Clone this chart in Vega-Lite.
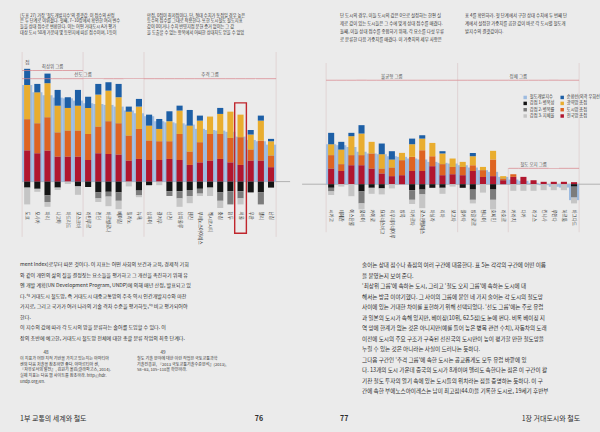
{
"$schema": "https://vega.github.io/schema/vega-lite/v6.json",
"background": "#ebebeb",
"padding": {"left": 20.1, "top": 0, "right": 0, "bottom": 0},
"spacing": 10,
"resolve": {"scale": {"color": "independent"}, "legend": {"color": "independent"}},
"config": {
  "view": {"stroke": null},
  "text": {"font": "Noto Sans CJK KR", "color": "#2e2e2e"},
  "axis": {"labelFont": "Noto Sans"},
  "legend": {"labelFont": "Noto Sans CJK KR"}
},
"datasets": {
  "comp": [
    {"key": "idx", "label": "철도개발지수", "rank": 0},
    {"key": "nat", "label": "전국망 총점", "rank": 1},
    {"key": "urb", "label": "도시망 총점", "rank": 2},
    {"key": "reg", "label": "광역망 총점", "rank": 3},
    {"key": "ring", "label": "순환선(외곽 우회선)", "rank": 4},
    {"key": "p1", "label": "감점 1: 병목성", "rank": 5},
    {"key": "p2", "label": "감점 2: 병목률", "rank": 6},
    {"key": "p3", "label": "감점 3: 지체율", "rank": 7}
  ],
  "left": [
    {"city": "도쿄", "idx": 80.5, "nat": 26, "urb": 26, "reg": 28.5, "ring": 13.5, "p1": -5, "p2": 0, "p3": -14},
    {"city": "오사카", "idx": 74.5, "nat": 23.6, "urb": 25, "reg": 25.8, "ring": 7, "p1": -6, "p2": 0, "p3": -2.5},
    {"city": "파리", "idx": 72, "nat": 25.8, "urb": 27.8, "reg": 28.4, "ring": 8, "p1": -11.5, "p2": -5.5, "p3": -4},
    {"city": "나고야", "idx": 70, "nat": 20.8, "urb": 20.2, "reg": 22.3, "ring": 13.1, "p1": -5, "p2": 0, "p3": -2},
    {"city": "마드리드", "idx": 69.4, "nat": 20.8, "urb": 21.7, "reg": 18.9, "ring": 8.9, "p1": 0, "p2": 0, "p3": -2},
    {"city": "모스크바", "idx": 67.5, "nat": 20.8, "urb": 21.7, "reg": 20.8, "ring": 13.1, "p1": -4, "p2": 0, "p3": -7},
    {"city": "라인루르", "idx": 65.3, "nat": 18, "urb": 21.7, "reg": 21.7, "ring": 9.4, "p1": -4.5, "p2": 0, "p3": 0},
    {"city": "런던", "idx": 64.7, "nat": 23.6, "urb": 22.2, "reg": 26.7, "ring": 8.9, "p1": -9, "p2": -5, "p3": -3},
    {"city": "바르셀로나", "idx": 63.9, "nat": 23, "urb": 27.3, "reg": 25.5, "ring": 7, "p1": -8.5, "p2": -4, "p3": -8},
    {"city": "베이징", "idx": 62.5, "nat": 22.5, "urb": 26.1, "reg": 21.7, "ring": 11.1, "p1": -9, "p2": -7, "p3": -7},
    {"city": "밀라노", "idx": 59.2, "nat": 17.5, "urb": 20.8, "reg": 20, "ring": 4.2, "p1": 0, "p2": 0, "p3": -4},
    {"city": "뉴욕", "idx": 57, "nat": 18.9, "urb": 25, "reg": 18.6, "ring": 6.4, "p1": -7.5, "p2": -4, "p3": -1.5},
    {"city": "상하이", "idx": 54.5, "nat": 18, "urb": 16.2, "reg": 12.5, "ring": 9.1, "p1": -3, "p2": 0, "p3": 0},
    {"city": "광저우", "idx": 50.3, "nat": 18, "urb": 15.6, "reg": 10.3, "ring": 8.3, "p1": 0, "p2": 0, "p3": -3},
    {"city": "선전", "idx": 49.4, "nat": 18.9, "urb": 14.7, "reg": 16.7, "ring": 8.3, "p1": -8, "p2": -4, "p3": 0},
    {"city": "상파울루", "idx": 48.6, "nat": 18, "urb": 21.7, "reg": 19.5, "ring": 4.1, "p1": -8, "p2": -6, "p3": -7},
    {"city": "톈진", "idx": 47.5, "nat": 13.9, "urb": 11.1, "reg": 21.7, "ring": 13, "p1": -7, "p2": -5, "p3": -6},
    {"city": "부에노스아이레스", "idx": 44.0, "nat": 16, "urb": 16.8, "reg": 18, "ring": 4.2, "p1": -6, "p2": -4, "p3": -2},
    {"city": "멕시코시티", "idx": 43, "nat": 17.5, "urb": 22.2, "reg": 14.5, "ring": 0, "p1": -5, "p2": 0, "p3": -7},
    {"city": "충칭", "idx": 42.5, "nat": 18.9, "urb": 20.8, "reg": 16.7, "ring": 5, "p1": -9, "p2": -7, "p3": -6},
    {"city": "청두", "idx": 41.5, "nat": 16, "urb": 20.4, "reg": 21.9, "ring": 0, "p1": -8, "p2": -11, "p3": 0},
    {"city": "서울", "idx": 37.5, "nat": 13.9, "urb": 23.1, "reg": 18.8, "ring": 0, "p1": -8, "p2": -6, "p3": -5},
    {"city": "우한", "idx": 34.7, "nat": 17.5, "urb": 9.2, "reg": 12.5, "ring": 3.8, "p1": -9, "p2": 0, "p3": 0},
    {"city": "델리", "idx": 33.6, "nat": 17.5, "urb": 16.7, "reg": 16.6, "ring": 4.2, "p1": -9, "p2": -10, "p3": 0},
    {"city": "난징", "idx": 30.8, "nat": 12, "urb": 9.7, "reg": 11.9, "ring": 2, "p1": -5, "p2": 0, "p3": 0}
  ],
  "right": [
    {"city": "시카고", "idx": 33.3, "nat": 13, "urb": 11.2, "reg": 9.1, "ring": 9.5, "p1": -3, "p2": -3, "p3": -3},
    {"city": "테헤란", "idx": 32.5, "nat": 11, "urb": 5.7, "reg": 12.2, "ring": 6.4, "p1": 0, "p2": 0, "p3": -2},
    {"city": "이스탄불", "idx": 31, "nat": 15.8, "urb": 8.4, "reg": 15.8, "ring": 2.8, "p1": 0, "p2": 0, "p3": -10},
    {"city": "뭄바이", "idx": 27, "nat": 15.8, "urb": 8.4, "reg": 18, "ring": 7, "p1": -6, "p2": -10, "p3": -5},
    {"city": "카이로", "idx": 25.6, "nat": 13, "urb": 12.6, "reg": 9.7, "ring": 0, "p1": -3, "p2": 0, "p3": -5},
    {"city": "요하네스버그", "idx": 25, "nat": 8.9, "urb": 4.1, "reg": 12, "ring": 8.9, "p1": -3.5, "p2": 0, "p3": -5},
    {"city": "리우데자네이루", "idx": 23.3, "nat": 6.7, "urb": 7.2, "reg": 6.7, "ring": 6.9, "p1": 0, "p2": 0, "p3": -3.5},
    {"city": "방콕", "idx": 22.8, "nat": 7.5, "urb": 12.5, "reg": 6.1, "ring": 0, "p1": 0, "p2": 0, "p3": 0},
    {"city": "자카르타", "idx": 21.4, "nat": 11, "urb": 11.8, "reg": 10.5, "ring": 4.7, "p1": -5, "p2": -8, "p3": -3.5},
    {"city": "로스앤젤레스", "idx": 20.6, "nat": 11, "urb": 17.3, "reg": 9.7, "ring": 2.8, "p1": -4.5, "p2": -4, "p3": -11.5},
    {"city": "마닐라", "idx": 18.6, "nat": 15, "urb": 8.3, "reg": 11.1, "ring": 0, "p1": -3, "p2": 0, "p3": 0},
    {"city": "리마", "idx": 17.8, "nat": 7.5, "urb": 9.2, "reg": 8.9, "ring": 1.9, "p1": -3, "p2": 0, "p3": -5},
    {"city": "보고타", "idx": 17.2, "nat": 8.3, "urb": 6.1, "reg": 7, "ring": 0, "p1": 0, "p2": 0, "p3": -2},
    {"city": "콜카타", "idx": 15.8, "nat": 7.5, "urb": 6.9, "reg": 4.2, "ring": 0, "p1": -3, "p2": 0, "p3": 0},
    {"city": "방갈로르", "idx": 13.9, "nat": 11, "urb": 4.8, "reg": 7.5, "ring": 2.7, "p1": -4.5, "p2": -8.5, "p3": -3},
    {"city": "첸나이", "idx": 11.7, "nat": 6, "urb": 5.7, "reg": 2.7, "ring": 0, "p1": 0, "p2": 0, "p3": -7},
    {"city": "호찌민", "idx": 10.3, "nat": 6.7, "urb": 13.9, "reg": 7.2, "ring": 0, "p1": -4.5, "p2": -8.5, "p3": -8},
    {"city": "라호르", "idx": 6.1, "nat": 3.3, "urb": 1.4, "reg": 2, "ring": 0, "p1": 0, "p2": 0, "p3": 0},
    {"city": "카라치", "idx": 3.9, "nat": 6.1, "urb": 2.2, "reg": 0, "ring": 0, "p1": 0, "p2": 0, "p3": -5.5},
    {"city": "다카", "idx": 2.8, "nat": 6.1, "urb": 0, "reg": 0, "ring": 0, "p1": 0, "p2": 0, "p3": -5.5},
    {"city": "라고스", "idx": 1.1, "nat": 3.3, "urb": 0, "reg": 0, "ring": 0, "p1": 0, "p2": 0, "p3": -5.5},
    {"city": "킨샤사", "idx": -0.8, "nat": 2, "urb": 0, "reg": 0, "ring": 0, "p1": 0, "p2": 0, "p3": -5},
    {"city": "루안다", "idx": -2.2, "nat": 2, "urb": 0, "reg": 0, "ring": 0, "p1": 0, "p2": 0, "p3": -5},
    {"city": "하르툼", "idx": -2.8, "nat": 2, "urb": 0, "reg": 0, "ring": 0, "p1": 0, "p2": 0, "p3": -5},
    {"city": "바그다드", "idx": -13.3, "nat": 1.7, "urb": 0, "reg": 0, "ring": 0, "p1": -2, "p2": -9, "p3": -5}
  ],
  "capL": [
    {"c": 0, "n": 0, "t": "[도표 27] 가장 ‘철도개발지수’의 결괏값. 이 점수의 산정"},
    {"c": 0, "n": 1, "t": "은 두 단계로 이뤄졌다. 첫째, 7~10장에서 확인한 여러 변수"},
    {"c": 0, "n": 2, "t": "들을 상대 점수로 변환한다. 이는 어떤 거대도시 A가 평가"},
    {"c": 0, "n": 3, "t": "대상 도시 50개 가운데 몇 등인지에 따른 점수이며, 1등이"},
    {"c": 1, "n": 0, "t": "만점, 0점이 최저점이다. 단, 절대 수치가 동점일 경우 높은"},
    {"c": 1, "n": 1, "t": "등수의 점수를 그대로 적용한다. 또한 도시철도 철도지표"},
    {"c": 1, "n": 2, "t": "값이 0이거나 수치 반영지점 문헌 증거 없이는 그 값"},
    {"c": 1, "n": 3, "t": "을 도출할 수 없는 항목에서 어떠한 상대치도 얻을 수 없었"}
  ],
  "capR": [
    {"c": 0, "n": 0, "t": "단 도시의 경우, 이들 도시의 값은 0으로 설정하는 한편 실"},
    {"c": 0, "n": 1, "t": "제로 값이 있는 도시들은 그 수에 맞게 상대 점수를 매겼다."},
    {"c": 0, "n": 2, "t": "둘째, 이들 상대 점수를 종합하기 위해, 각 요소를 다섯 부류"},
    {"c": 0, "n": 3, "t": "로 분류한 다음 가중치를 매겼다. 이 가중치의 세부 사항은"},
    {"c": 1, "n": 0, "t": "표 4를 확인하라. 첫 단계에서 구한 상대 수치에 두 번째 단"},
    {"c": 1, "n": 1, "t": "계에서 설정한 가중치를 곱한 값이 바로 각 도시별 철도개"},
    {"c": 1, "n": 2, "t": "발지수의 결괏값이다."}
  ],
  "bodyL": [
    {"n": 0, "t": "ment Index)로부터 따온 것이다. 이 지표는 어떤 사회의 보건과 교육, 경제적 기회"},
    {"n": 1, "t": "와 같이 개인의 삶의 질을 결정짓는 요소들을 평가하고 그 개선을 촉진하기 위해 유"},
    {"n": 2, "t": "엔 개발 계획(UN Development Program, UNDP)에 의해 매년 산정, 발표되고 있"},
    {"n": 3, "t": "다.⁴⁸ 거대도시 철도망, 즉 거대도시 대중교통망의 주축 역시 인간개발지수와 마찬"},
    {"n": 4, "t": "가지로, 그리고 국가가 여러 나라의 기술 격차 수준을 평가하듯,⁴⁹ 비교 평가되어야"},
    {"n": 5, "t": "한다."},
    {"n": 6, "t": "\u3000\u3000\u3000\u3000이 지수의 값에 따라 각 도시의 망을 분류하는 술어를 도입할 수 있다. 이"},
    {"n": 7, "t": "장의 초반에 예고한, 거대도시 철도망 전체에 대한 총괄 분류 작업의 최종 단계다."}
  ],
  "noteL": [
    {"c": 0, "n": 0, "t": "48"},
    {"c": 1, "n": 0, "t": "49"},
    {"c": 0, "n": 1, "t": "이 지표가 어떤 지적 기반을 가지고 있는지는 아마티아"},
    {"c": 0, "n": 2, "t": "센의 다음 저술을 참조하면 좋다. 아마르티아 센,"},
    {"c": 0, "n": 3, "t": "『자유로서의 발전』, 김원기 옮김(갈라파고스, 2014)."},
    {"c": 0, "n": 4, "t": "실제 지표는 다음 웹 사이트를 참조하라. http://hdr."},
    {"c": 0, "n": 5, "t": "undp.org/en."},
    {"c": 1, "n": 1, "t": "철도 기술 분야에 대한 이런 작업은 국토교통과학"},
    {"c": 1, "n": 2, "t": "기술진흥원, 『2013 국토교통기술수준분석』(2013),"},
    {"c": 1, "n": 3, "t": "58~63, 105~110을 확인하라."}
  ],
  "footL": [
    {"c": 0, "t": "1부 교통의 세계와 철도"},
    {"c": 1, "t": "76"}
  ],
  "bodyR": [
    {"n": 0, "t": "술어는 상대 점수나 총점의 여러 구간에 대응한다. 표 5는 각각의 구간에 어떤 이름"},
    {"n": 1, "t": "을 붙였는지 보여 준다."},
    {"n": 2, "t": "\u3000\u3000\u3000\u3000‘최상위 그룹’에 속하는 도시, 그리고 ‘철도 오지 그룹’에 속하는 도시에 대"},
    {"n": 3, "t": "해서는 방금 이야기했다. 그 사이의 그룹에 붙인 네 가지 술어는 각 도시의 철도망"},
    {"n": 4, "t": "사이에 있는 거대한 차이를 표현하기 위해 선택되었다. ‘선도 그룹’에는 주로 유럽"},
    {"n": 5, "t": "과 일본의 도시가 속해 있지만, 베이징(10위, 62.5점)도 눈에 띈다. 비록 베이징 지"},
    {"n": 6, "t": "역 망에 한계가 없는 것은 아니지만(예를 들어 높은 병목 관련 수치), 자동차의 도래"},
    {"n": 7, "t": "이전에 도시의 주요 구조가 구축된 선진국의 도시만이 높이 평가할 만한 철도망을"},
    {"n": 8, "t": "누릴 수 있는 것은 아니라는 사실이 드러나는 듯하다."},
    {"n": 9, "t": "\u3000\u3000\u3000\u3000그다음 구간인 ‘추격 그룹’에 속한 도시는 공교롭게도 모두 유럽 바깥에 있"},
    {"n": 10, "t": "다. 13개의 도시 가운데 중국의 도시가 8개이며 델리도 속한다는 점은 이 구간이 활"},
    {"n": 11, "t": "기찬 철도 투자의 열기 속에 있는 도시들의 위치라는 점을 증명하는 듯하다. 이 구"},
    {"n": 12, "t": "간에 속한 부에노스아이레스는 남미 최고점(44.0)을 기록한 도시로, 19세기 후반부"}
  ],
  "footR": [
    {"c": 0, "t": "77"},
    {"c": 1, "t": "1장 거대도시와 철도"}
  ]
},
"hconcat": [
  {
    "spacing": 0,
    "bounds": "flush",
    "resolve": {"scale": {"color": "independent"}, "legend": {"color": "independent"}},
    "vconcat": [
      {
        "width": 268, "height": 51.4,
        "data": {"name": "capL"},
        "mark": {"type": "text", "align": "left", "baseline": "middle", "fontSize": 4.2, "color": "#333"},
        "encoding": {
          "x": {"field": "c", "type": "quantitative", "scale": {"domain": [0, 1], "range": [-2, 125]}, "axis": null},
          "y": {"field": "n", "type": "quantitative", "scale": {"domain": [0, 3], "range": [15.7, 32.5]}, "axis": null},
          "text": {"field": "t"}
        }
      },
      {
        "width": 268, "height": 184.8,
        "data": {"name": "left"},
        "transform": [
          {"fold": ["idx", "nat", "urb", "reg", "ring", "p1", "p2", "p3"], "as": ["key", "value"]},
          {"lookup": "key", "from": {"data": {"name": "comp"}, "key": "key", "fields": ["label", "rank"]}}
        ],
        "layer": [
          {
            "transform": [{"filter": {"field": "key", "equal": "idx"}}, {"filter": {"field": "city", "oneOf": ["도쿄", "라인루르", "상하이"]}}],
            "mark": {"type": "rule", "color": "#d9c3c5", "strokeWidth": 0.6},
            "encoding": {"x": {"field": "city", "type": "nominal", "bandPosition": 0, "scale": {"domain": ["도쿄","오사카","파리","나고야","마드리드","모스크바","라인루르","런던","바르셀로나","베이징","밀라노","뉴욕","상하이","광저우","선전","상파울루","톈진","부에노스아이레스","멕시코시티","충칭","청두","서울","우한","델리","난징"], "range": [0, 254], "paddingInner": 0, "paddingOuter": 0}, "axis": null}}
          },
          {
            "transform": [{"filter": {"field": "key", "equal": "idx"}}, {"filter": {"field": "city", "equal": "난징"}}],
            "mark": {"type": "rule", "color": "#d9c3c5", "strokeWidth": 0.6},
            "encoding": {"x": {"field": "city", "type": "nominal", "bandPosition": 1, "scale": {"domain": ["도쿄","오사카","파리","나고야","마드리드","모스크바","라인루르","런던","바르셀로나","베이징","밀라노","뉴욕","상하이","광저우","선전","상파울루","톈진","부에노스아이레스","멕시코시티","충칭","청두","서울","우한","델리","난징"], "range": [0, 254], "paddingInner": 0, "paddingOuter": 0}, "axis": null}}
          },
          {
            "transform": [{"filter": {"field": "key", "equal": "idx"}}, {"filter": {"field": "city", "equal": "도쿄"}}],
            "mark": {"type": "rule", "color": "#9a9a9a", "strokeWidth": 0.7},
            "encoding": {"y": {"datum": 0, "type": "quantitative", "axis": null}}
          },
          {
            "transform": [{"filter": {"field": "key", "equal": "idx"}}],
            "mark": {"type": "bar", "width": {"band": 1}},
            "encoding": {
              "x": {"field": "city", "type": "nominal", "scale": {"domain": ["도쿄","오사카","파리","나고야","마드리드","모스크바","라인루르","런던","바르셀로나","베이징","밀라노","뉴욕","상하이","광저우","선전","상파울루","톈진","부에노스아이레스","멕시코시티","충칭","청두","서울","우한","델리","난징"], "range": [0, 254], "paddingInner": 0, "paddingOuter": 0}, "axis": null},
              "y": {"field": "value", "type": "quantitative", "scale": {"domain": [-46, 108], "nice": false, "zero": false},
                    "axis": {"values": [-40, -20, 0, 20, 40, 60, 80, 100], "grid": true, "gridColor": "#cfcfcf", "gridWidth": 0.5, "domain": false, "ticks": false, "labelFontSize": 5.5, "labelColor": "#555", "labelPadding": 2, "title": null}},
              "color": {"field": "label", "type": "nominal", "legend": null,
                        "scale": {"domain": ["철도개발지수", "감점 1: 병목성", "감점 2: 병목률", "감점 3: 지체율", "순환선(외곽 우회선)", "광역망 총점", "도시망 총점", "전국망 총점"],
                                  "range": ["#9dbbe0", "#141414", "#7c7c7c", "#c5c5c5", "#1d5fa6", "#e9ad2f", "#de6422", "#b1162f"]}}
            }
          },
          {
            "transform": [{"filter": {"not": {"field": "key", "equal": "idx"}}}],
            "mark": {"type": "bar", "width": {"band": 0.6}},
            "encoding": {
              "x": {"field": "city", "type": "nominal", "scale": {"domain": ["도쿄","오사카","파리","나고야","마드리드","모스크바","라인루르","런던","바르셀로나","베이징","밀라노","뉴욕","상하이","광저우","선전","상파울루","톈진","부에노스아이레스","멕시코시티","충칭","청두","서울","우한","델리","난징"], "range": [0, 254], "paddingInner": 0, "paddingOuter": 0}, "axis": null},
              "y": {"field": "value", "type": "quantitative", "stack": "zero", "axis": null},
              "color": {"field": "label", "type": "nominal", "legend": null,
                        "scale": {"domain": ["철도개발지수", "감점 1: 병목성", "감점 2: 병목률", "감점 3: 지체율", "순환선(외곽 우회선)", "광역망 총점", "도시망 총점", "전국망 총점"],
                                  "range": ["#9dbbe0", "#141414", "#7c7c7c", "#c5c5c5", "#1d5fa6", "#e9ad2f", "#de6422", "#b1162f"]}},
              "order": {"field": "rank", "type": "quantitative"}
            }
          },
          {
            "transform": [{"filter": {"field": "key", "equal": "idx"}}, {"filter": {"field": "city", "oneOf": ["도쿄", "오사카", "파리", "나고야", "마드리드", "모스크바"]}}],
            "mark": {"type": "bar", "width": {"band": 1}, "color": "#d8848b"},
            "encoding": {
              "x": {"field": "city", "type": "nominal", "scale": {"domain": ["도쿄","오사카","파리","나고야","마드리드","모스크바","라인루르","런던","바르셀로나","베이징","밀라노","뉴욕","상하이","광저우","선전","상파울루","톈진","부에노스아이레스","멕시코시티","충칭","청두","서울","우한","델리","난징"], "range": [0, 254], "paddingInner": 0, "paddingOuter": 0}, "axis": null},
              "y": {"datum": 93, "type": "quantitative", "axis": null},
              "y2": {"datum": 92.4}
            }
          },
          {
            "transform": [{"filter": {"field": "key", "equal": "idx"}}],
            "mark": {"type": "bar", "width": {"band": 1}, "color": "#d8848b"},
            "encoding": {
              "x": {"field": "city", "type": "nominal", "scale": {"domain": ["도쿄","오사카","파리","나고야","마드리드","모스크바","라인루르","런던","바르셀로나","베이징","밀라노","뉴욕","상하이","광저우","선전","상파울루","톈진","부에노스아이레스","멕시코시티","충칭","청두","서울","우한","델리","난징"], "range": [0, 254], "paddingInner": 0, "paddingOuter": 0}, "axis": null},
              "y": {"datum": 86, "type": "quantitative", "axis": null},
              "y2": {"datum": 85.4}
            }
          },
          {
            "transform": [{"filter": {"field": "key", "equal": "idx"}}, {"filter": {"field": "city", "equal": "나고야"}}],
            "mark": {"type": "text", "text": "최상위 그룹", "fontSize": 4.5, "baseline": "alphabetic", "dy": -2, "color": "#555"},
            "encoding": {
              "x": {"field": "city", "type": "nominal", "bandPosition": 0, "scale": {"domain": ["도쿄","오사카","파리","나고야","마드리드","모스크바","라인루르","런던","바르셀로나","베이징","밀라노","뉴욕","상하이","광저우","선전","상파울루","톈진","부에노스아이레스","멕시코시티","충칭","청두","서울","우한","델리","난징"], "range": [0, 254], "paddingInner": 0, "paddingOuter": 0}, "axis": null},
              "y": {"datum": 93, "type": "quantitative", "axis": null}
            }
          },
          {
            "transform": [{"filter": {"field": "key", "equal": "idx"}}, {"filter": {"field": "city", "equal": "라인루르"}}],
            "mark": {"type": "text", "text": "선도 그룹", "fontSize": 4.5, "baseline": "alphabetic", "dy": -2, "color": "#555"},
            "encoding": {
              "x": {"field": "city", "type": "nominal", "bandPosition": 0, "scale": {"domain": ["도쿄","오사카","파리","나고야","마드리드","모스크바","라인루르","런던","바르셀로나","베이징","밀라노","뉴욕","상하이","광저우","선전","상파울루","톈진","부에노스아이레스","멕시코시티","충칭","청두","서울","우한","델리","난징"], "range": [0, 254], "paddingInner": 0, "paddingOuter": 0}, "axis": null},
              "y": {"datum": 86, "type": "quantitative", "axis": null}
            }
          },
          {
            "transform": [{"filter": {"field": "key", "equal": "idx"}}, {"filter": {"field": "city", "equal": "멕시코시티"}}],
            "mark": {"type": "text", "text": "추격 그룹", "fontSize": 4.5, "baseline": "alphabetic", "dy": -2, "color": "#555"},
            "encoding": {
              "x": {"field": "city", "type": "nominal", "bandPosition": 0.5, "scale": {"domain": ["도쿄","오사카","파리","나고야","마드리드","모스크바","라인루르","런던","바르셀로나","베이징","밀라노","뉴욕","상하이","광저우","선전","상파울루","톈진","부에노스아이레스","멕시코시티","충칭","청두","서울","우한","델리","난징"], "range": [0, 254], "paddingInner": 0, "paddingOuter": 0}, "axis": null},
              "y": {"datum": 86, "type": "quantitative", "axis": null}
            }
          },
          {
            "transform": [{"filter": {"field": "key", "equal": "idx"}}],
            "mark": {"type": "text", "angle": 90, "align": "left", "baseline": "middle", "fontSize": 4.5, "color": "#333"},
            "encoding": {
              "x": {"field": "city", "type": "nominal", "scale": {"domain": ["도쿄","오사카","파리","나고야","마드리드","모스크바","라인루르","런던","바르셀로나","베이징","밀라노","뉴욕","상하이","광저우","선전","상파울루","톈진","부에노스아이레스","멕시코시티","충칭","청두","서울","우한","델리","난징"], "range": [0, 254], "paddingInner": 0, "paddingOuter": 0}, "axis": null},
              "y": {"datum": -25, "type": "quantitative", "axis": null},
              "text": {"field": "city"}
            }
          },
          {
            "transform": [{"filter": {"field": "key", "equal": "idx"}}, {"filter": {"field": "city", "equal": "서울"}}],
            "mark": {"type": "bar", "width": {"band": 1.15}, "fill": "#ffffff", "fillOpacity": 0, "stroke": "#c0262d", "strokeWidth": 1.4},
            "encoding": {
              "x": {"field": "city", "type": "nominal", "scale": {"domain": ["도쿄","오사카","파리","나고야","마드리드","모스크바","라인루르","런던","바르셀로나","베이징","밀라노","뉴욕","상하이","광저우","선전","상파울루","톈진","부에노스아이레스","멕시코시티","충칭","청두","서울","우한","델리","난징"], "range": [0, 254], "paddingInner": 0, "paddingOuter": 0}, "axis": null},
              "y": {"datum": 65.6, "type": "quantitative", "axis": null},
              "y2": {"datum": -43}
            }
          },
          {
            "transform": [{"filter": {"field": "key", "equal": "idx"}}, {"filter": {"field": "city", "equal": "도쿄"}}],
            "mark": {"type": "text", "text": "점", "fontSize": 5, "align": "left", "baseline": "middle", "dx": 3, "color": "#555"},
            "encoding": {
              "x": {"field": "city", "type": "nominal", "bandPosition": 0, "scale": {"domain": ["도쿄","오사카","파리","나고야","마드리드","모스크바","라인루르","런던","바르셀로나","베이징","밀라노","뉴욕","상하이","광저우","선전","상파울루","톈진","부에노스아이레스","멕시코시티","충칭","청두","서울","우한","델리","난징"], "range": [0, 254], "paddingInner": 0, "paddingOuter": 0}, "axis": null},
              "y": {"datum": 100, "type": "quantitative", "axis": null}
            }
          }
        ]
      },
      {
        "width": 268, "height": 110,
        "data": {"name": "bodyL"},
        "mark": {"type": "text", "align": "left", "baseline": "middle", "fontSize": 5.1, "color": "#2b2b2b"},
        "encoding": {
          "x": {"datum": 0, "type": "quantitative", "scale": {"domain": [0, 1], "range": [-2, 200]}, "axis": null},
          "y": {"field": "n", "type": "quantitative", "scale": {"domain": [0, 7], "range": [27.5, 101]}, "axis": null},
          "text": {"field": "t"}
        }
      },
      {
        "width": 268, "height": 54,
        "data": {"name": "noteL"},
        "layer": [
          {
            "transform": [{"filter": {"field": "n", "equal": 0}}],
            "mark": {"type": "text", "align": "center", "baseline": "middle", "fontSize": 4.6, "dx": 26, "color": "#333"},
            "encoding": {
              "x": {"field": "c", "type": "quantitative", "scale": {"domain": [0, 1], "range": [-2, 115]}, "axis": null},
              "y": {"field": "n", "type": "quantitative", "scale": {"domain": [0, 5], "range": [6, 35]}, "axis": null},
              "text": {"field": "t"}
            }
          },
          {
            "transform": [{"filter": {"field": "n", "gt": 0}}],
            "mark": {"type": "text", "align": "left", "baseline": "middle", "fontSize": 4.1, "color": "#333"},
            "encoding": {
              "x": {"field": "c", "type": "quantitative", "axis": null},
              "y": {"field": "n", "type": "quantitative", "axis": null},
              "text": {"field": "t"}
            }
          }
        ]
      },
      {
        "width": 268, "height": 31.8,
        "data": {"name": "footL"},
        "layer": [
          {
            "transform": [{"filter": {"field": "c", "equal": 0}}],
            "mark": {"type": "text", "align": "left", "baseline": "middle", "fontSize": 7, "color": "#2b2b2b"},
            "encoding": {
              "x": {"field": "c", "type": "quantitative", "scale": {"domain": [0, 1], "range": [-2, 241]}, "axis": null},
              "y": {"datum": 0, "type": "quantitative", "scale": {"domain": [0, 1], "range": [18, 30]}, "axis": null},
              "text": {"field": "t"}
            }
          },
          {
            "transform": [{"filter": {"field": "c", "equal": 1}}],
            "mark": {"type": "text", "align": "right", "baseline": "middle", "fontSize": 7, "fontWeight": "bold", "color": "#2b2b2b"},
            "encoding": {
              "x": {"field": "c", "type": "quantitative", "axis": null},
              "y": {"datum": 0, "type": "quantitative", "axis": null},
              "text": {"field": "t"}
            }
          }
        ]
      }
    ]
  },
  {
    "spacing": 0,
    "bounds": "flush",
    "resolve": {"scale": {"color": "independent"}, "legend": {"color": "independent"}},
    "vconcat": [
      {
        "width": 300, "height": 62.8,
        "data": {"name": "capR"},
        "mark": {"type": "text", "align": "left", "baseline": "middle", "fontSize": 4.4, "color": "#333"},
        "encoding": {
          "x": {"field": "c", "type": "quantitative", "scale": {"domain": [0, 1], "range": [38, 163]}, "axis": null},
          "y": {"field": "n", "type": "quantitative", "scale": {"domain": [0, 3], "range": [15.7, 40.3]}, "axis": null},
          "text": {"field": "t"}
        }
      },
      {
        "width": 300, "height": 169.2,
        "data": {"name": "right"},
        "transform": [
          {"fold": ["idx", "nat", "urb", "reg", "ring", "p1", "p2", "p3"], "as": ["key", "value"]},
          {"lookup": "key", "from": {"data": {"name": "comp"}, "key": "key", "fields": ["label", "rank"]}}
        ],
        "layer": [
          {
            "transform": [{"filter": {"field": "key", "equal": "idx"}}, {"filter": {"field": "city", "oneOf": ["시카고", "콜카타"]}}],
            "mark": {"type": "rule", "color": "#d9c3c5", "strokeWidth": 0.6},
            "encoding": {"x": {"field": "city", "type": "nominal", "bandPosition": 0, "scale": {"domain": ["시카고","테헤란","이스탄불","뭄바이","카이로","요하네스버그","리우데자네이루","방콕","자카르타","로스앤젤레스","마닐라","리마","보고타","콜카타","방갈로르","첸나이","호찌민","라호르","카라치","다카","라고스","킨샤사","루안다","하르툼","바그다드"], "range": [24, 277], "paddingInner": 0, "paddingOuter": 0}, "axis": null}}
          },
          {
            "transform": [{"filter": {"field": "key", "equal": "idx"}}, {"filter": {"field": "city", "equal": "바그다드"}}],
            "mark": {"type": "rule", "color": "#d9c3c5", "strokeWidth": 0.6},
            "encoding": {"x": {"field": "city", "type": "nominal", "bandPosition": 1, "scale": {"domain": ["시카고","테헤란","이스탄불","뭄바이","카이로","요하네스버그","리우데자네이루","방콕","자카르타","로스앤젤레스","마닐라","리마","보고타","콜카타","방갈로르","첸나이","호찌민","라호르","카라치","다카","라고스","킨샤사","루안다","하르툼","바그다드"], "range": [24, 277], "paddingInner": 0, "paddingOuter": 0}, "axis": null}}
          },
          {
            "transform": [{"filter": {"field": "key", "equal": "idx"}}, {"filter": {"field": "city", "equal": "카라치"}}],
            "mark": {"type": "rule", "color": "#d9c3c5", "strokeWidth": 0.6},
            "encoding": {
              "x": {"field": "city", "type": "nominal", "bandPosition": 0, "scale": {"domain": ["시카고","테헤란","이스탄불","뭄바이","카이로","요하네스버그","리우데자네이루","방콕","자카르타","로스앤젤레스","마닐라","리마","보고타","콜카타","방갈로르","첸나이","호찌민","라호르","카라치","다카","라고스","킨샤사","루안다","하르툼","바그다드"], "range": [24, 277], "paddingInner": 0, "paddingOuter": 0}, "axis": null},
              "y": {"datum": 13.6, "type": "quantitative", "axis": null},
              "y2": {"datum": -40}
            }
          },
          {
            "transform": [{"filter": {"field": "key", "equal": "idx"}}, {"filter": {"field": "city", "equal": "시카고"}}],
            "mark": {"type": "rule", "color": "#9a9a9a", "strokeWidth": 0.7},
            "encoding": {"y": {"datum": 0, "type": "quantitative", "axis": null}}
          },
          {
            "transform": [{"filter": {"field": "key", "equal": "idx"}}],
            "mark": {"type": "bar", "width": {"band": 1}},
            "encoding": {
              "x": {"field": "city", "type": "nominal", "scale": {"domain": ["시카고","테헤란","이스탄불","뭄바이","카이로","요하네스버그","리우데자네이루","방콕","자카르타","로스앤젤레스","마닐라","리마","보고타","콜카타","방갈로르","첸나이","호찌민","라호르","카라치","다카","라고스","킨샤사","루안다","하르툼","바그다드"], "range": [24, 277], "paddingInner": 0, "paddingOuter": 0}, "axis": null},
              "y": {"field": "value", "type": "quantitative", "scale": {"domain": [-40, 101], "nice": false, "zero": false},
                    "axis": {"values": [-40, -20, 0, 20, 40, 60, 80, 100], "grid": true, "gridColor": "#cfcfcf", "gridWidth": 0.5, "domain": false, "ticks": false, "labels": false, "title": null}},
              "color": {"field": "label", "type": "nominal",
                        "scale": {"domain": ["철도개발지수", "감점 1: 병목성", "감점 2: 병목률", "감점 3: 지체율", "순환선(외곽 우회선)", "광역망 총점", "도시망 총점", "전국망 총점"],
                                  "range": ["#9dbbe0", "#141414", "#7c7c7c", "#c5c5c5", "#1d5fa6", "#e9ad2f", "#de6422", "#b1162f"]},
                        "legend": {"orient": "none", "legendX": 221, "legendY": 32, "columns": 2, "title": null, "symbolType": "square", "symbolSize": 12, "symbolStrokeWidth": 0, "labelFontSize": 4.2, "labelColor": "#333", "labelOffset": 2.5, "rowPadding": 1.3, "columnPadding": 5, "labelLimit": 120}}
            }
          },
          {
            "transform": [{"filter": {"not": {"field": "key", "equal": "idx"}}}],
            "mark": {"type": "bar", "width": {"band": 0.6}},
            "encoding": {
              "x": {"field": "city", "type": "nominal", "scale": {"domain": ["시카고","테헤란","이스탄불","뭄바이","카이로","요하네스버그","리우데자네이루","방콕","자카르타","로스앤젤레스","마닐라","리마","보고타","콜카타","방갈로르","첸나이","호찌민","라호르","카라치","다카","라고스","킨샤사","루안다","하르툼","바그다드"], "range": [24, 277], "paddingInner": 0, "paddingOuter": 0}, "axis": null},
              "y": {"field": "value", "type": "quantitative", "stack": "zero", "axis": null},
              "color": {"field": "label", "type": "nominal",
                        "scale": {"domain": ["철도개발지수", "감점 1: 병목성", "감점 2: 병목률", "감점 3: 지체율", "순환선(외곽 우회선)", "광역망 총점", "도시망 총점", "전국망 총점"],
                                  "range": ["#9dbbe0", "#141414", "#7c7c7c", "#c5c5c5", "#1d5fa6", "#e9ad2f", "#de6422", "#b1162f"]}},
              "order": {"field": "rank", "type": "quantitative"}
            }
          },
          {
            "transform": [{"filter": {"field": "key", "equal": "idx"}}],
            "mark": {"type": "bar", "width": {"band": 1}, "color": "#d8848b"},
            "encoding": {
              "x": {"field": "city", "type": "nominal", "scale": {"domain": ["시카고","테헤란","이스탄불","뭄바이","카이로","요하네스버그","리우데자네이루","방콕","자카르타","로스앤젤레스","마닐라","리마","보고타","콜카타","방갈로르","첸나이","호찌민","라호르","카라치","다카","라고스","킨샤사","루안다","하르툼","바그다드"], "range": [24, 277], "paddingInner": 0, "paddingOuter": 0}, "axis": null},
              "y": {"datum": 87, "type": "quantitative", "axis": null},
              "y2": {"datum": 86.4}
            }
          },
          {
            "transform": [{"filter": {"field": "key", "equal": "idx"}}, {"filter": {"field": "city", "oneOf": ["카라치", "다카", "라고스", "킨샤사", "루안다", "하르툼", "바그다드"]}}],
            "mark": {"type": "bar", "width": {"band": 1}, "color": "#d8848b"},
            "encoding": {
              "x": {"field": "city", "type": "nominal", "scale": {"domain": ["시카고","테헤란","이스탄불","뭄바이","카이로","요하네스버그","리우데자네이루","방콕","자카르타","로스앤젤레스","마닐라","리마","보고타","콜카타","방갈로르","첸나이","호찌민","라호르","카라치","다카","라고스","킨샤사","루안다","하르툼","바그다드"], "range": [24, 277], "paddingInner": 0, "paddingOuter": 0}, "axis": null},
              "y": {"datum": 13.6, "type": "quantitative", "axis": null},
              "y2": {"datum": 13}
            }
          },
          {
            "transform": [{"filter": {"field": "key", "equal": "idx"}}, {"filter": {"field": "city", "equal": "리우데자네이루"}}],
            "mark": {"type": "text", "text": "불균형 그룹", "fontSize": 4.5, "baseline": "alphabetic", "dy": -2, "color": "#555"},
            "encoding": {
              "x": {"field": "city", "type": "nominal", "bandPosition": 0.5, "scale": {"domain": ["시카고","테헤란","이스탄불","뭄바이","카이로","요하네스버그","리우데자네이루","방콕","자카르타","로스앤젤레스","마닐라","리마","보고타","콜카타","방갈로르","첸나이","호찌민","라호르","카라치","다카","라고스","킨샤사","루안다","하르툼","바그다드"], "range": [24, 277], "paddingInner": 0, "paddingOuter": 0}, "axis": null},
              "y": {"datum": 87, "type": "quantitative", "axis": null}
            }
          },
          {
            "transform": [{"filter": {"field": "key", "equal": "idx"}}, {"filter": {"field": "city", "equal": "다카"}}],
            "mark": {"type": "text", "text": "정체 그룹", "fontSize": 4.5, "baseline": "alphabetic", "dy": -2, "color": "#555"},
            "encoding": {
              "x": {"field": "city", "type": "nominal", "bandPosition": 0, "scale": {"domain": ["시카고","테헤란","이스탄불","뭄바이","카이로","요하네스버그","리우데자네이루","방콕","자카르타","로스앤젤레스","마닐라","리마","보고타","콜카타","방갈로르","첸나이","호찌민","라호르","카라치","다카","라고스","킨샤사","루안다","하르툼","바그다드"], "range": [24, 277], "paddingInner": 0, "paddingOuter": 0}, "axis": null},
              "y": {"datum": 87, "type": "quantitative", "axis": null}
            }
          },
          {
            "transform": [{"filter": {"field": "key", "equal": "idx"}}, {"filter": {"field": "city", "equal": "라고스"}}],
            "mark": {"type": "text", "text": "철도 오지 그룹", "fontSize": 4.5, "baseline": "alphabetic", "dy": -2, "color": "#555"},
            "encoding": {
              "x": {"field": "city", "type": "nominal", "bandPosition": 0.5, "scale": {"domain": ["시카고","테헤란","이스탄불","뭄바이","카이로","요하네스버그","리우데자네이루","방콕","자카르타","로스앤젤레스","마닐라","리마","보고타","콜카타","방갈로르","첸나이","호찌민","라호르","카라치","다카","라고스","킨샤사","루안다","하르툼","바그다드"], "range": [24, 277], "paddingInner": 0, "paddingOuter": 0}, "axis": null},
              "y": {"datum": 13.6, "type": "quantitative", "axis": null}
            }
          },
          {
            "transform": [{"filter": {"field": "key", "equal": "idx"}}],
            "mark": {"type": "text", "angle": 90, "align": "left", "baseline": "middle", "fontSize": 4.5, "color": "#333"},
            "encoding": {
              "x": {"field": "city", "type": "nominal", "scale": {"domain": ["시카고","테헤란","이스탄불","뭄바이","카이로","요하네스버그","리우데자네이루","방콕","자카르타","로스앤젤레스","마닐라","리마","보고타","콜카타","방갈로르","첸나이","호찌민","라호르","카라치","다카","라고스","킨샤사","루안다","하르툼","바그다드"], "range": [24, 277], "paddingInner": 0, "paddingOuter": 0}, "axis": null},
              "y": {"datum": -21, "type": "quantitative", "axis": null},
              "text": {"field": "city"}
            }
          }
        ]
      },
      {
        "width": 300, "height": 168,
        "data": {"name": "bodyR"},
        "mark": {"type": "text", "align": "left", "baseline": "middle", "fontSize": 5.6, "color": "#2b2b2b"},
        "encoding": {
          "x": {"datum": 0, "type": "quantitative", "scale": {"domain": [0, 1], "range": [60, 260]}, "axis": null},
          "y": {"field": "n", "type": "quantitative", "scale": {"domain": [0, 12], "range": [32.3, 158.3]}, "axis": null},
          "text": {"field": "t"}
        }
      },
      {
        "width": 300, "height": 32,
        "data": {"name": "footR"},
        "layer": [
          {
            "transform": [{"filter": {"field": "c", "equal": 0}}],
            "mark": {"type": "text", "align": "left", "baseline": "middle", "fontSize": 7, "fontWeight": "bold", "color": "#2b2b2b"},
            "encoding": {
              "x": {"field": "c", "type": "quantitative", "scale": {"domain": [0, 1], "range": [38, 278]}, "axis": null},
              "y": {"datum": 0, "type": "quantitative", "scale": {"domain": [0, 1], "range": [18, 30]}, "axis": null},
              "text": {"field": "t"}
            }
          },
          {
            "transform": [{"filter": {"field": "c", "equal": 1}}],
            "mark": {"type": "text", "align": "right", "baseline": "middle", "fontSize": 7, "color": "#2b2b2b"},
            "encoding": {
              "x": {"field": "c", "type": "quantitative", "axis": null},
              "y": {"datum": 0, "type": "quantitative", "axis": null},
              "text": {"field": "t"}
            }
          }
        ]
      }
    ]
  }
]
}
